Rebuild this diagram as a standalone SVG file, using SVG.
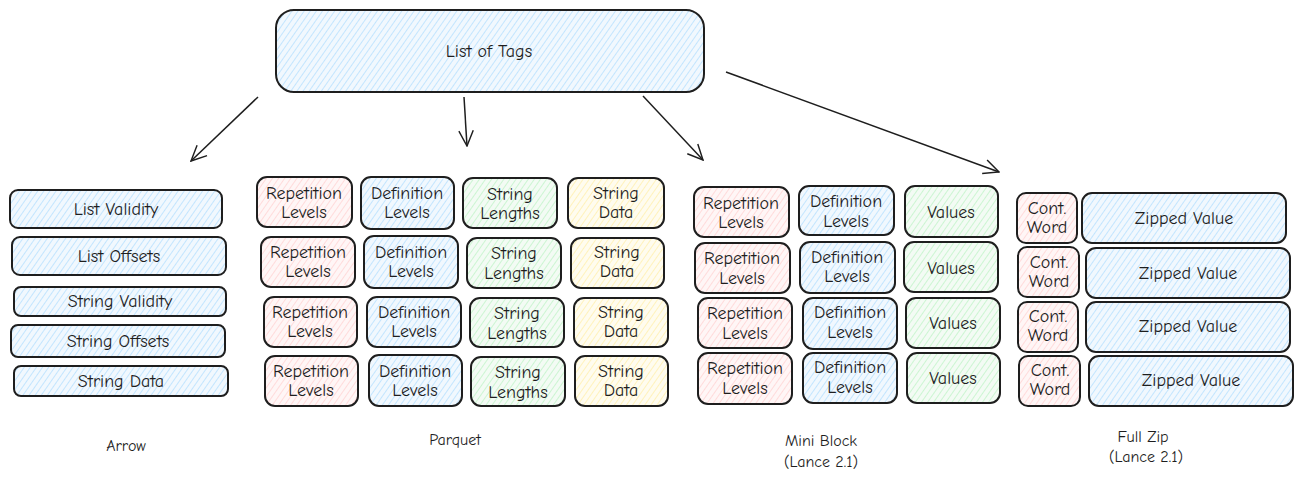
<svg xmlns="http://www.w3.org/2000/svg" width="1304" height="483" viewBox="0 0 1304 483">
<defs>
<pattern id="hb" width="5" height="5" patternUnits="userSpaceOnUse" patternTransform="rotate(35)"><rect width="5" height="5" fill="#f1f8fe"/><line x1="0" y1="0" x2="0" y2="5" stroke="#a5d8ff" stroke-width="1.2"/></pattern>
<pattern id="hr" width="5" height="5" patternUnits="userSpaceOnUse" patternTransform="rotate(35)"><rect width="5" height="5" fill="#fff6f6"/><line x1="0" y1="0" x2="0" y2="5" stroke="#ffc9c9" stroke-width="1.2"/></pattern>
<pattern id="hg" width="5" height="5" patternUnits="userSpaceOnUse" patternTransform="rotate(35)"><rect width="5" height="5" fill="#f3fbf4"/><line x1="0" y1="0" x2="0" y2="5" stroke="#b2f2bb" stroke-width="1.2"/></pattern>
<pattern id="hy" width="5" height="5" patternUnits="userSpaceOnUse" patternTransform="rotate(35)"><rect width="5" height="5" fill="#fffcef"/><line x1="0" y1="0" x2="0" y2="5" stroke="#ffec99" stroke-width="1.2"/></pattern>
<marker id="ah" viewBox="0 0 20 20" refX="19" refY="10" markerWidth="18" markerHeight="18" markerUnits="userSpaceOnUse" orient="auto"><path d="M2,2 L19,10 L2,18" fill="none" stroke="#1e1e1e" stroke-width="1.6"/></marker>
</defs>
<style>
rect.n{stroke:#1e1e1e;stroke-width:2}
.b{fill:url(#hb)} .r{fill:url(#hr)} .g{fill:url(#hg)} .y{fill:url(#hy)}
text{font-family:"Comic Neue","Lato","Liberation Sans",sans-serif;font-size:18px;fill:#1e1e1e;text-anchor:middle;dominant-baseline:central}
text.lb{font-size:16px}
.c line{stroke:#1e1e1e;stroke-width:1.5;fill:none}
</style>
<rect width="1304" height="483" fill="#ffffff"/>

<g id="root"><rect class="n b" x="276" y="10" width="428" height="82" rx="18"/><text x="489" y="51">List of Tags</text></g>

<g class="c" id="connectors">
<line x1="258" y1="97" x2="191" y2="161" marker-end="url(#ah)"/>
<line x1="464" y1="97" x2="467" y2="146" marker-end="url(#ah)"/>
<line x1="643" y1="96" x2="703" y2="160" marker-end="url(#ah)"/>
<line x1="726" y1="72" x2="999" y2="172" marker-end="url(#ah)"/>
</g>

<g id="arrow-list-validity"><rect class="n b" x="10" y="190" width="212" height="38" rx="8"/><text x="116" y="209">List Validity</text></g>
<g id="arrow-list-offsets"><rect class="n b" x="12" y="237" width="214" height="38" rx="8"/><text x="119" y="256">List Offsets</text></g>
<g id="arrow-string-validity"><rect class="n b" x="14" y="287" width="212" height="29" rx="7"/><text x="120" y="301">String Validity</text></g>
<g id="arrow-string-offsets"><rect class="n b" x="11" y="325" width="214" height="32" rx="7"/><text x="118" y="341">String Offsets</text></g>
<g id="arrow-string-data"><rect class="n b" x="14" y="366" width="214" height="30" rx="7"/><text x="121" y="381">String Data</text></g>

<g id="pq-rep-1"><rect class="n r" x="257" y="177" width="95" height="50" rx="10"/><text x="304" y="193">Repetition</text><text x="304" y="212">Levels</text></g>
<g id="pq-def-1"><rect class="n b" x="361" y="177" width="93" height="52" rx="10"/><text x="407" y="193">Definition</text><text x="407" y="212">Levels</text></g>
<g id="pq-len-1"><rect class="n g" x="463" y="178" width="94" height="50" rx="10"/><text x="510" y="194">String</text><text x="510" y="213">Lengths</text></g>
<g id="pq-data-1"><rect class="n y" x="568" y="178" width="96" height="50" rx="10"/><text x="616" y="193">String</text><text x="616" y="212">Data</text></g>

<g id="pq-rep-2"><rect class="n r" x="261" y="237" width="94" height="50" rx="10"/><text x="308" y="252">Repetition</text><text x="308" y="271">Levels</text></g>
<g id="pq-def-2"><rect class="n b" x="364" y="236" width="94" height="52" rx="10"/><text x="411" y="252">Definition</text><text x="411" y="271">Levels</text></g>
<g id="pq-len-2"><rect class="n g" x="467" y="238" width="94" height="50" rx="10"/><text x="514" y="253">String</text><text x="514" y="273">Lengths</text></g>
<g id="pq-data-2"><rect class="n y" x="571" y="238" width="93" height="50" rx="10"/><text x="617" y="252">String</text><text x="617" y="271">Data</text></g>

<g id="pq-rep-3"><rect class="n r" x="264" y="297" width="93" height="50" rx="10"/><text x="310" y="312">Repetition</text><text x="310" y="331">Levels</text></g>
<g id="pq-def-3"><rect class="n b" x="367" y="297" width="94" height="50" rx="10"/><text x="414" y="312">Definition</text><text x="414" y="331">Levels</text></g>
<g id="pq-len-3"><rect class="n g" x="470" y="298" width="94" height="49" rx="10"/><text x="517" y="313">String</text><text x="517" y="333">Lengths</text></g>
<g id="pq-data-3"><rect class="n y" x="574" y="298" width="94" height="49" rx="10"/><text x="621" y="312">String</text><text x="621" y="331">Data</text></g>

<g id="pq-rep-4"><rect class="n r" x="265" y="356" width="93" height="50" rx="10"/><text x="311" y="371">Repetition</text><text x="311" y="390">Levels</text></g>
<g id="pq-def-4"><rect class="n b" x="369" y="355" width="93" height="51" rx="10"/><text x="415" y="371">Definition</text><text x="415" y="390">Levels</text></g>
<g id="pq-len-4"><rect class="n g" x="471" y="357" width="94" height="49" rx="10"/><text x="518" y="372">String</text><text x="518" y="392">Lengths</text></g>
<g id="pq-data-4"><rect class="n y" x="575" y="356" width="93" height="50" rx="10"/><text x="621" y="371">String</text><text x="621" y="390">Data</text></g>

<g id="mb-rep-1"><rect class="n r" x="694" y="187" width="95" height="50" rx="10"/><text x="741" y="203">Repetition</text><text x="741" y="222">Levels</text></g>
<g id="mb-def-1"><rect class="n b" x="799" y="186" width="95" height="49" rx="10"/><text x="846" y="201">Definition</text><text x="846" y="221">Levels</text></g>
<g id="mb-val-1"><rect class="n g" x="905" y="186" width="93" height="51" rx="10"/><text x="951" y="212">Values</text></g>

<g id="mb-rep-2"><rect class="n r" x="695" y="243" width="95" height="50" rx="10"/><text x="742" y="258">Repetition</text><text x="742" y="278">Levels</text></g>
<g id="mb-def-2"><rect class="n b" x="800" y="242" width="95" height="51" rx="10"/><text x="847" y="257">Definition</text><text x="847" y="276">Levels</text></g>
<g id="mb-val-2"><rect class="n g" x="904" y="242" width="94" height="50" rx="10"/><text x="951" y="268">Values</text></g>

<g id="mb-rep-3"><rect class="n r" x="698" y="298" width="94" height="50" rx="10"/><text x="745" y="313">Repetition</text><text x="745" y="333">Levels</text></g>
<g id="mb-def-3"><rect class="n b" x="803" y="298" width="94" height="51" rx="10"/><text x="850" y="312">Definition</text><text x="850" y="332">Levels</text></g>
<g id="mb-val-3"><rect class="n g" x="906" y="298" width="94" height="50" rx="10"/><text x="953" y="323">Values</text></g>

<g id="mb-rep-4"><rect class="n r" x="698" y="353" width="94" height="51" rx="10"/><text x="745" y="368">Repetition</text><text x="745" y="388">Levels</text></g>
<g id="mb-def-4"><rect class="n b" x="803" y="353" width="94" height="50" rx="10"/><text x="850" y="367">Definition</text><text x="850" y="387">Levels</text></g>
<g id="mb-val-4"><rect class="n g" x="907" y="353" width="93" height="50" rx="10"/><text x="953" y="378">Values</text></g>

<g id="fz-cw-1"><rect class="n r" x="1017" y="193" width="60" height="50" rx="9"/><text x="1047" y="208">Cont.</text><text x="1047" y="227">Word</text></g>
<g id="fz-zv-1"><rect class="n b" x="1082" y="193" width="204" height="50" rx="10"/><text x="1184" y="218">Zipped Value</text></g>
<g id="fz-cw-2"><rect class="n r" x="1018" y="247" width="61" height="50" rx="9"/><text x="1049" y="262">Cont.</text><text x="1049" y="281">Word</text></g>
<g id="fz-zv-2"><rect class="n b" x="1086" y="248" width="204" height="50" rx="10"/><text x="1188" y="273">Zipped Value</text></g>
<g id="fz-cw-3"><rect class="n r" x="1018" y="302" width="60" height="50" rx="9"/><text x="1048" y="316">Cont.</text><text x="1048" y="335">Word</text></g>
<g id="fz-zv-3"><rect class="n b" x="1086" y="302" width="204" height="50" rx="10"/><text x="1188" y="326">Zipped Value</text></g>
<g id="fz-cw-4"><rect class="n r" x="1019" y="356" width="61" height="50" rx="9"/><text x="1050" y="370">Cont.</text><text x="1050" y="389">Word</text></g>
<g id="fz-zv-4"><rect class="n b" x="1089" y="356" width="204" height="50" rx="10"/><text x="1191" y="380">Zipped Value</text></g>

<g id="labels">
<text class="lb" x="126" y="446">Arrow</text>
<text class="lb" x="455" y="440">Parquet</text>
<text class="lb" x="821" y="441">Mini Block</text>
<text class="lb" x="821" y="462">(Lance 2.1)</text>
<text class="lb" x="1143" y="437">Full Zip</text>
<text class="lb" x="1146" y="457">(Lance 2.1)</text>
</g>
</svg>
